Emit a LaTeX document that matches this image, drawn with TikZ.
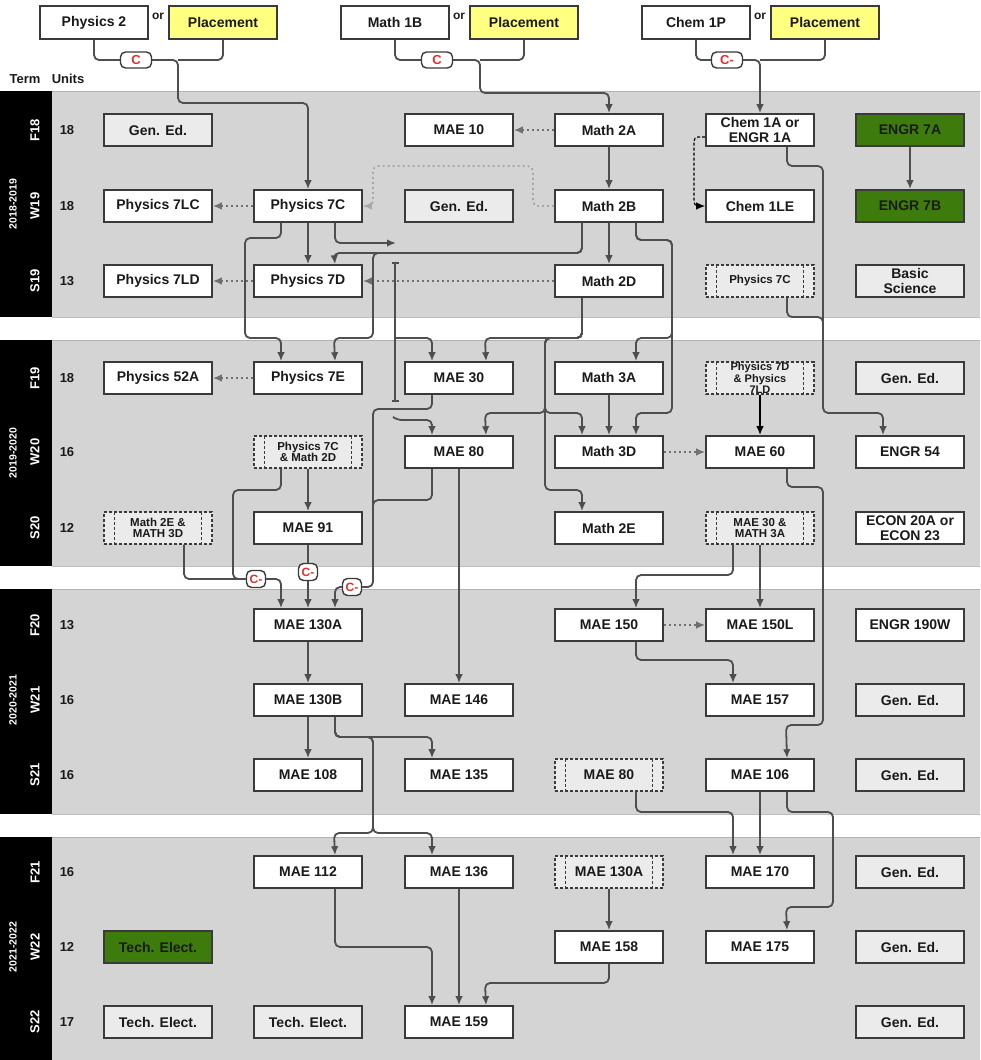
\documentclass[tikz,border=0pt]{standalone}
\usepackage{fontspec}
\setmainfont{Liberation Sans}
\usetikzlibrary{arrows.meta,calc}
\definecolor{bandgray}{HTML}{D4D4D4}
\definecolor{boxline}{HTML}{3A3A3A}
\definecolor{wire}{HTML}{4E4E4E}
\definecolor{lightbox}{HTML}{EBEBEB}
\definecolor{greenbox}{HTML}{3D7C0C}
\definecolor{yel}{HTML}{FFFF80}
\definecolor{redtxt}{HTML}{E03030}
\definecolor{dotgray}{HTML}{707070}
\definecolor{ldotgray}{HTML}{A8A8A8}
\definecolor{txt}{HTML}{1A1A1A}
\tikzset{
  crs/.style={rectangle, draw=boxline, line width=1.6pt, minimum width=108pt, minimum height=32pt,
    inner sep=1pt, font=\bfseries\fontsize{14}{14.5}\selectfont, text=txt, align=center},
  wbox/.style={crs, fill=white},
  gbox/.style={crs, fill=lightbox},
  grbox/.style={crs, fill=greenbox},
  ybox/.style={crs, fill=yel, minimum height=33pt},
  tbox/.style={crs, fill=white, minimum height=33pt},
  dbox/.style={crs, fill=lightbox, dash pattern=on 3pt off 2pt, line width=1.1pt,
    path picture={
      \draw[boxline, line width=1.1pt, dash pattern=on 3pt off 2pt]
        ([xshift=10.5pt]path picture bounding box.north west) -- ([xshift=10.5pt]path picture bounding box.south west)
        ([xshift=-10.5pt]path picture bounding box.north east) -- ([xshift=-10.5pt]path picture bounding box.south east);}},
  small/.style={font=\bfseries\fontsize{11.5}{11.5}\selectfont},
  tiny/.style={font=\bfseries\fontsize{11}{9.5}\selectfont},
  wirel/.style={draw=wire, line width=1.8pt, rounded corners=5pt},
  link/.style={wirel, -{Latex[length=9pt,width=7.5pt]}},
  dlink/.style={draw=dotgray, line width=2pt, dash pattern=on 2pt off 3pt, -{Latex[length=9pt,width=7.5pt]}},
  ldlink/.style={draw=ldotgray, line width=1.8pt, dash pattern=on 2pt off 3pt, rounded corners=5pt, -{Latex[length=9pt,width=7.5pt]}},
  dashlink/.style={draw=black, line width=1.2pt, dash pattern=on 3pt off 2pt, rounded corners=4pt, -{Latex[length=9pt,width=7.5pt]}},
  badge/.style={rectangle, rounded corners=5pt, draw=boxline, line width=1.4pt, fill=white, text=redtxt,
    font=\bfseries\fontsize{13}{13}\selectfont, minimum width=31pt, minimum height=16pt, inner sep=0pt},
  termlab/.style={rotate=90, text=white, font=\bfseries\fontsize{13}{13}\selectfont},
  yearlab/.style={rotate=90, text=white, font=\bfseries\fontsize{10.5}{10.5}\selectfont},
  unitlab/.style={text=txt, font=\bfseries\fontsize{13}{13}\selectfont},
  orlab/.style={text=txt, font=\bfseries\fontsize{12}{12}\selectfont},
}
\begin{document}
\begin{tikzpicture}[x=1pt,y=-1pt]
\useasboundingbox (0,0) rectangle (980,1060);
\fill[white] (0,0) rectangle (980,1060);
% bands
\foreach \a/\b in {91/317,340/566,589/814,837/1060}{
  \fill[bandgray] (52,\a) rectangle (980,\b);
  \fill[black] (0,\a) rectangle (52,\b);
  \draw[color=black!17, line width=0.8pt] (83,\a) -- (83,\b);
  \draw[color=black!30, line width=0.8pt] (52,\a) -- (980,\a);
  \draw[color=black!25, line width=0.6pt] (52,\b) -- (980,\b);
}
% header
\node[unitlab] (hterm) at (25,79) {Term};
\node[unitlab] (hunits) at (68,79) {Units};
% year / term labels
\node[yearlab] (y1) at (13,204) {2018-2019};
\node[yearlab] (y2) at (13,453) {2019-2020};
\node[yearlab] (y3) at (13,700) {2020-2021};
\node[yearlab] (y4) at (13,947) {2021-2022};
\foreach \t/\u/\yy [count=\i] in {F18/18/130,W19/18/206,S19/13/281,F19/18/378,W20/16/452,S20/12/528,F20/13/625,W21/16/700,S21/16/775,F21/16/872,W22/12/947,S22/17/1022}{
  \node[termlab] (term\i) at (35,\yy) {\t};
  \node[unitlab] (unit\i) at (67,\yy) {\u};
}
% top prerequisite boxes
\node[tbox] (phys2) at (94,22.5) {Physics 2};
\node[orlab] (or1) at (158,16) {or};
\node[ybox] (placeA) at (223,22.5) {Placement};
\node[tbox] (math1b) at (395,22.5) {Math 1B};
\node[orlab] (or2) at (459,16) {or};
\node[ybox] (placeB) at (524,22.5) {Placement};
\node[tbox] (chem1p) at (696,22.5) {Chem 1P};
\node[orlab] (or3) at (760,16) {or};
\node[ybox] (placeC) at (825,22.5) {Placement};
\node[badge] (bgA) at (136,60) {C};
\node[badge] (bgB) at (437,60) {C};
\node[badge] (bgC) at (727,60) {C-};
% Year 1
\node[gbox] (ge1) at (158,130) {Gen. Ed.};
\node[wbox] (mae10) at (459,130) {MAE 10};
\node[wbox] (m2a) at (609,130) {Math 2A};
\node[wbox] (chem1a) at (760,130) {Chem 1A or\\ENGR 1A};
\node[grbox] (engr7a) at (910,130) {ENGR 7A};
\node[wbox] (p7lc) at (158,206) {Physics 7LC};
\node[wbox] (p7c) at (308,206) {Physics 7C};
\node[gbox] (ge2) at (459,206) {Gen. Ed.};
\node[wbox] (m2b) at (609,206) {Math 2B};
\node[wbox] (chem1le) at (760,206) {Chem 1LE};
\node[grbox] (engr7b) at (910,206) {ENGR 7B};
\node[wbox] (p7ld) at (158,281) {Physics 7LD};
\node[wbox] (p7d) at (308,281) {Physics 7D};
\node[wbox] (m2d) at (609,281) {Math 2D};
\node[dbox, small] (dp7c) at (760,281) {Physics 7C};
\node[gbox] (basic) at (910,281) {Basic\\Science};
% Year 2
\node[wbox] (p52a) at (158,378) {Physics 52A};
\node[wbox] (p7e) at (308,378) {Physics 7E};
\node[wbox] (mae30) at (459,378) {MAE 30};
\node[wbox] (m3a) at (609,378) {Math 3A};
\node[dbox, tiny] (dp7d) at (760,378) {Physics 7D\\\& Physics\\7LD};
\node[gbox] (ge3) at (910,378) {Gen. Ed.};
\node[dbox, small] (dp7cm) at (308,452) {Physics 7C\\\& Math 2D};
\node[wbox] (mae80) at (459,452) {MAE 80};
\node[wbox] (m3d) at (609,452) {Math 3D};
\node[wbox] (mae60) at (760,452) {MAE 60};
\node[wbox] (engr54) at (910,452) {ENGR 54};
\node[dbox, small] (dm2e) at (158,528) {Math 2E \&\\MATH 3D};
\node[wbox] (mae91) at (308,528) {MAE 91};
\node[wbox] (m2e) at (609,528) {Math 2E};
\node[dbox, small] (dmae30) at (760,528) {MAE 30 \&\\MATH 3A};
\node[wbox] (econ) at (910,528) {ECON 20A or\\ECON 23};
% Year 3
\node[wbox] (mae130a) at (308,625) {MAE 130A};
\node[wbox] (mae150) at (609,625) {MAE 150};
\node[wbox] (mae150l) at (760,625) {MAE 150L};
\node[wbox] (engr190) at (910,625) {ENGR 190W};
\node[wbox] (mae130b) at (308,700) {MAE 130B};
\node[wbox] (mae146) at (459,700) {MAE 146};
\node[wbox] (mae157) at (760,700) {MAE 157};
\node[gbox] (ge4) at (910,700) {Gen. Ed.};
\node[wbox] (mae108) at (308,775) {MAE 108};
\node[wbox] (mae135) at (459,775) {MAE 135};
\node[dbox] (dmae80) at (609,775) {MAE 80};
\node[wbox] (mae106) at (760,775) {MAE 106};
\node[gbox] (ge5) at (910,775) {Gen. Ed.};
% Year 4
\node[wbox] (mae112) at (308,872) {MAE 112};
\node[wbox] (mae136) at (459,872) {MAE 136};
\node[dbox] (dmae130) at (609,872) {MAE 130A};
\node[wbox] (mae170) at (760,872) {MAE 170};
\node[gbox] (ge6) at (910,872) {Gen. Ed.};
\node[grbox] (tech1) at (158,947) {Tech. Elect.};
\node[wbox] (mae158) at (609,947) {MAE 158};
\node[wbox] (mae175) at (760,947) {MAE 175};
\node[gbox] (ge7) at (910,947) {Gen. Ed.};
\node[gbox] (tech2) at (158,1022) {Tech. Elect.};
\node[gbox] (tech3) at (308,1022) {Tech. Elect.};
\node[wbox] (mae159) at (459,1022) {MAE 159};
\node[gbox] (ge8) at (910,1022) {Gen. Ed.};
% badges lower
\node[badge, minimum width=19pt, minimum height=17pt, font=\bfseries\fontsize{12}{12}\selectfont] (bg1) at (256,579) {C-};
\node[badge, minimum width=19pt, minimum height=17pt, font=\bfseries\fontsize{12}{12}\selectfont] (bg2) at (308,572) {C-};
\node[badge, minimum width=19pt, minimum height=17pt, font=\bfseries\fontsize{12}{12}\selectfont] (bg3) at (352,587) {C-};
% ---------- top connectors
\draw[wirel] (phys2.south) |- (bgA.west);
\draw[wirel] (placeA.south) |- (178,60);
\draw[link] (bgA.east) -| (178,103) -| (p7c.north);
\draw[wirel] (math1b.south) |- (bgB.west);
\draw[wirel] (placeB.south) |- (480,60);
\draw[link] (bgB.east) -| (480,93) -| (m2a.north);
\draw[wirel] (chem1p.south) |- (bgC.west);
\draw[wirel] (placeC.south) |- (760,60);
\draw[link] (bgC.east) -- (760,60) -- (chem1a.north);
% ---------- dotted
\draw[dlink] (m2a.west) -- (mae10.east);
\draw[dlink] (p7c.west) -- (p7lc.east);
\draw[dlink] (p7d.west) -- (p7ld.east);
\draw[dlink] (p7e.west) -- (p52a.east);
\draw[dlink] (m2d.west) -- (p7d.east);
\draw[dlink] (m3d.east) -- (mae60.west);
\draw[dlink] (mae150.east) -- (mae150l.west);
\draw[ldlink] (m2b.west) -| (533,166) -| (373,206) -- (p7c.east);
\draw[dashlink] ($(chem1a.west)+(0,7)$) -| (694,206) -- (chem1le.west);
% ---------- year 1 solid
\draw[link] (m2a) -- (m2b);
\draw[link] (engr7a) -- (engr7b);
\draw[link] ($(chem1a.south)+(27,0)$) |- (823,166) |- (883,413) -- ($(engr54.north)+(-27,0)$);
\draw[wirel] ($(dp7c.south)+(27,0)$) |- (823,317) -- (823,330);
\draw[link] (p7c) -- (p7d);
\draw[link] ($(p7c.south)+(-27,0)$) |- (245,238) |- (281,338) -- ($(p7e.north)+(-27,0)$);
\draw[link] ($(m2b.south)+(-27,0)$) |- (334,253) -- ($(p7d.north)+(27,0)$);
\draw[link] ($(m2b.south)+(-27,0)$) |- (373,253) |- (334,338) -- ($(p7e.north)+(27,0)$);
\draw[link] (m2b) -- (m2d);
\draw[link] ($(m2b.south)+(27,0)$) |- (672,240) |- (636,338) -- ($(m3a.north)+(27,0)$);
\draw[link] ($(m2b.south)+(27,0)$) |- (672,240) |- (636,413) -- ($(m3d.north)+(27,0)$);
% Physics 7C -> MAE 30 / MAE 80 (with jump)
\coordinate (jA) at (396,243);
\coordinate (jB) at (395,262);
\coordinate (jC) at (395,402);
\coordinate (jD) at (395,338);
\coordinate (jE) at (393,417);
\draw[link] ($(p7c.south)+(27,0)$) |- (jA);
\draw[wirel, {Bar[width=7pt]}-{Bar[width=7pt]}] (jB) -- (jC);
\draw[link] (jD) -| ($(mae30.north)+(-27,0)$);
\draw[link] (jE) -- (397,420) -| ($(mae80.north)+(-27,0)$);
% Math 2D
\draw[link] ($(m2d.south)+(-27,0)$) |- (485,338) -- ($(mae30.north)+(27,0)$);
\draw[link] ($(m2d.south)+(-27,0)$) |- (545,338) |- (582,490) -- ($(m2e.north)+(-27,0)$);
\draw[link] ($(m2d.south)+(-27,0)$) |- (545,338) |- (485,413) -- ($(mae80.north)+(27,0)$);
\draw[link] ($(m2d.south)+(-27,0)$) |- (545,338) |- (582,413) -- ($(m3d.north)+(-27,0)$);
\draw[link] (m3a) -- (m3d);
\draw[link, draw=black] (dp7d) -- (mae60);
\draw[link] ($(mae60.south)+(27,0)$) |- (823,487) |- (786,725) -- ($(mae106.north)+(27,0)$);
% year 2 lower
\draw[link] (dp7cm) -- (mae91);
\draw[wirel] ($(dp7cm.south)+(-27,0)$) |- (233,490) |- (bg1.west);
\draw[wirel] ($(dm2e.south)+(26,0)$) |- (bg1.west);
\draw[link] (bg1.east) -| ($(mae130a.north)+(-27,0)$);
\draw[wirel] (mae91) -- (bg2);
\draw[link] (bg2) -- (mae130a);
\draw[wirel] ($(mae30.south)+(-27,0)$) |- (373,409) |- (bg3.east);
\draw[wirel] ($(mae80.south)+(-27,0)$) |- (373,500) -- (373,520);
\draw[link] (bg3.west) -| ($(mae130a.north)+(27,0)$);
\draw[link] (mae80) -- (mae146);
% year 3
\draw[link] (mae130a) -- (mae130b);
\draw[link] (mae130b) -- (mae108);
\draw[link] ($(mae130b.south)+(27,0)$) |- (432,737) -- ($(mae135.north)+(-27,0)$);
\draw[link] ($(mae130b.south)+(27,0)$) |- (373,737) |- (334,833) -- ($(mae112.north)+(27,0)$);
\draw[link] ($(mae130b.south)+(27,0)$) |- (373,737) |- (432,833) -- ($(mae136.north)+(-27,0)$);
\draw[link] (dmae30) -- (mae150l);
\draw[link] ($(dmae30.south)+(-27,0)$) |- (636,575) -- ($(mae150.north)+(27,0)$);
\draw[link] ($(mae150.south)+(27,0)$) |- (733,660) -- ($(mae157.north)+(-27,0)$);
\draw[link] ($(dmae80.south)+(27,0)$) |- (733,812) -- ($(mae170.north)+(-27,0)$);
\draw[link] (mae106) -- (mae170);
\draw[link] ($(mae106.south)+(27,0)$) |- (833,812) |- (786,907) -- ($(mae175.north)+(27,0)$);
% year 4
\draw[link] (dmae130) -- (mae158);
\draw[link] ($(mae112.south)+(27,0)$) |- (432,947) -- ($(mae159.north)+(-27,0)$);
\draw[link] (mae136) -- (mae159);
\draw[link] (mae158.south) |- (485,983) -- ($(mae159.north)+(27,0)$);
\end{tikzpicture}
\end{document}
